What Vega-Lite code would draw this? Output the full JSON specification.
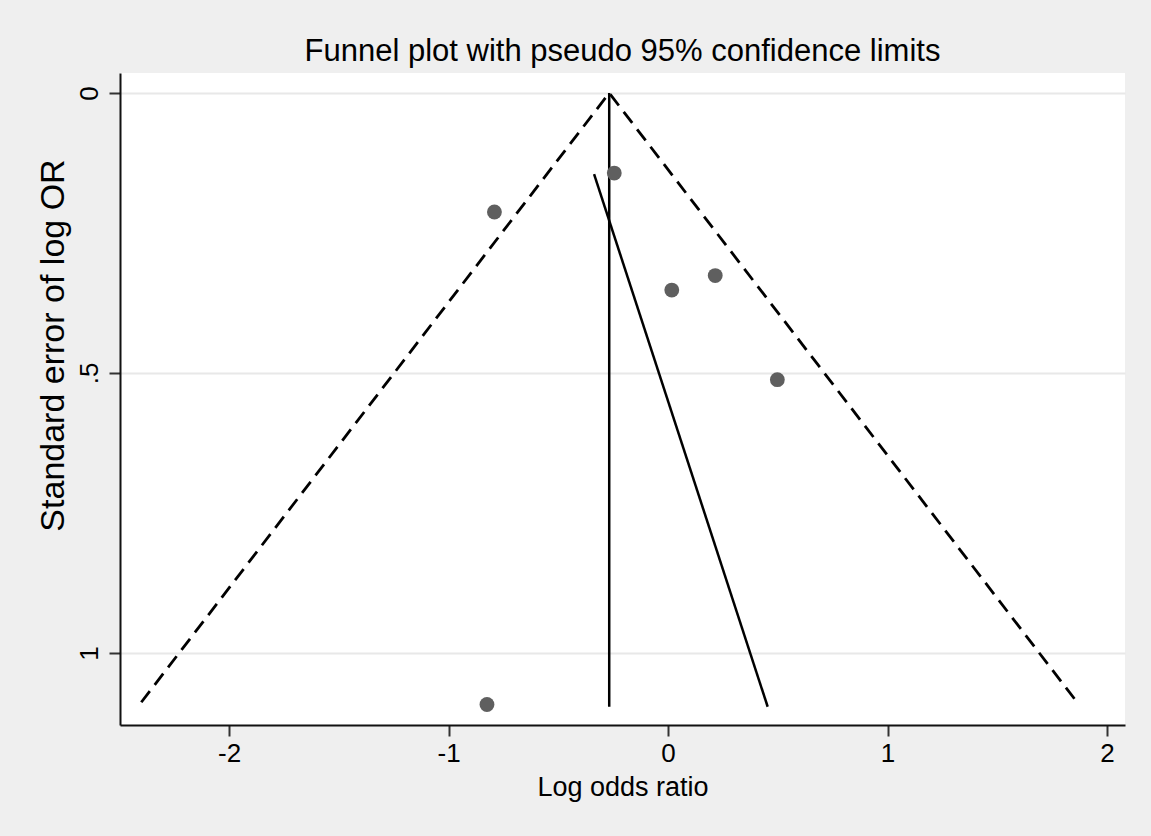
{
  "$schema": "https://vega.github.io/schema/vega-lite/v6.json",
  "autosize": {"type": "none"},
  "width": 1005,
  "height": 652,
  "padding": {"left": 120, "top": 73, "right": 26, "bottom": 111},
  "background": "#efefef",
  "title": {
    "text": "Funnel plot with pseudo 95% confidence limits",
    "font": "Liberation Sans",
    "fontSize": 31,
    "fontWeight": "normal",
    "color": "#000000",
    "anchor": "middle",
    "offset": 5
  },
  "config": {
    "view": {"fill": "#ffffff", "stroke": null},
    "axis": {
      "labelFont": "Liberation Sans",
      "titleFont": "Liberation Sans",
      "labelFontSize": 26,
      "titleFontSize": 27,
      "titleFontWeight": "normal",
      "labelColor": "#000000",
      "titleColor": "#000000",
      "domainColor": "#111111",
      "domainWidth": 2,
      "tickColor": "#333333",
      "tickWidth": 2,
      "tickSize": 11
    }
  },
  "datasets": {
    "funnel": [
      {"lor": -2.400, "se": 1.088, "ord": 1},
      {"lor": -0.268, "se": 0.0, "ord": 2},
      {"lor": 1.864, "se": 1.088, "ord": 3}
    ],
    "lines": [
      {"line": "pooled", "lor": -0.268, "se": 0.0},
      {"line": "pooled", "lor": -0.268, "se": 1.096},
      {"line": "egger", "lor": -0.337, "se": 0.145},
      {"line": "egger", "lor": 0.454, "se": 1.096}
    ],
    "studies": [
      {"lor": -0.245, "se": 0.143},
      {"lor": -0.791, "se": 0.2125},
      {"lor": 0.017, "se": 0.352},
      {"lor": 0.215, "se": 0.326},
      {"lor": 0.498, "se": 0.512},
      {"lor": -0.825, "se": 1.092}
    ]
  },
  "encoding": {
    "x": {
      "field": "lor",
      "type": "quantitative",
      "scale": {"domain": [-2.497, 2.082], "nice": false, "zero": false},
      "axis": {
        "title": "Log odds ratio",
        "values": [-2, -1, 0, 1, 2],
        "labelExpr": "toString(datum.value)",
        "grid": false,
        "labelPadding": 4,
        "titlePadding": 8
      }
    },
    "y": {
      "field": "se",
      "type": "quantitative",
      "scale": {"domain": [-0.0357, 1.1286], "nice": false, "zero": false, "reverse": true},
      "axis": {
        "title": "Standard error of log OR",
        "values": [0, 0.5, 1],
        "labelExpr": "datum.value == 0 ? '0' : datum.value == 1 ? '1' : '.5'",
        "grid": true,
        "gridColor": "#e8e8e8",
        "gridWidth": 2,
        "labelAngle": 270,
        "labelAlign": "center",
        "labelBaseline": "bottom",
        "labelPadding": 7,
        "titleFontSize": 34,
        "titleAngle": 270,
        "titleBaseline": "bottom",
        "titleX": -50,
        "titleY": 272,
        "titleAlign": "center"
      }
    }
  },
  "layer": [
    {
      "data": {"name": "funnel"},
      "mark": {"type": "line", "color": "#000000", "strokeWidth": 2.8, "strokeDash": [14, 8]},
      "encoding": {"order": {"field": "ord", "type": "quantitative"}}
    },
    {
      "data": {"name": "lines"},
      "mark": {"type": "line", "color": "#000000", "strokeWidth": 2.5},
      "encoding": {"detail": {"field": "line", "type": "nominal"}}
    },
    {
      "data": {"name": "studies"},
      "mark": {"type": "point", "filled": true, "shape": "circle", "size": 220, "color": "#5f5f5f", "opacity": 1},
      "encoding": {}
    }
  ]
}
